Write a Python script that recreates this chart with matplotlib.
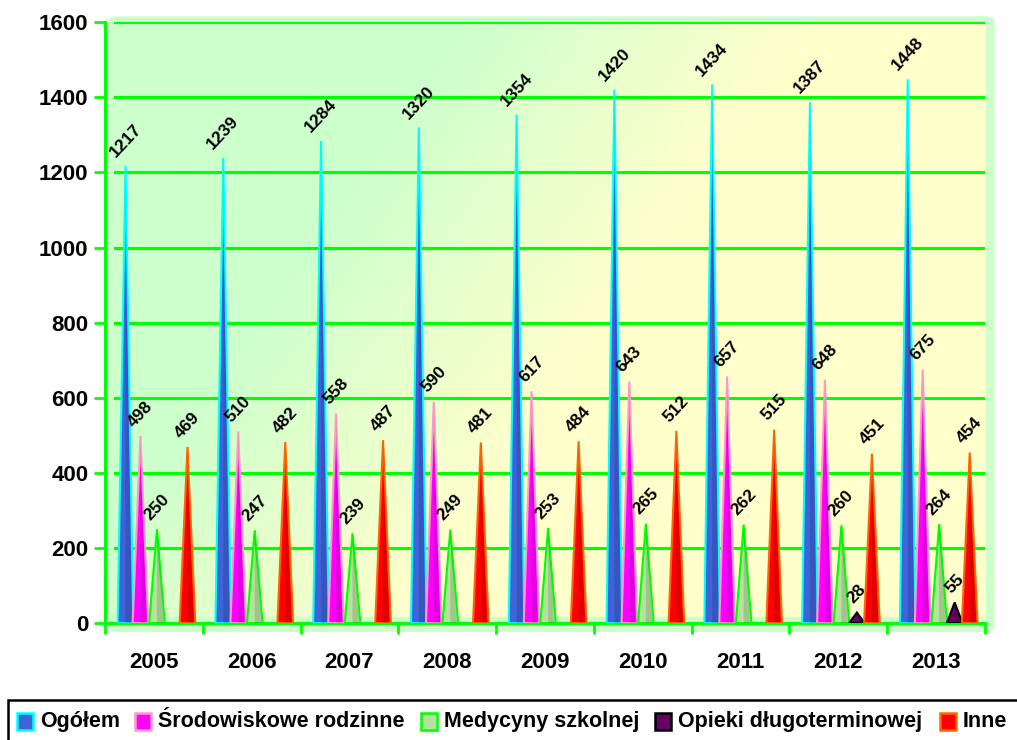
import numpy as np
import matplotlib.pyplot as plt
from matplotlib.patches import Rectangle, FancyBboxPatch

plt.rcParams['font.family'] = ['Liberation Sans', 'DejaVu Sans']
plt.rcParams['font.weight'] = 'bold'

# dane
lata = ['2005', '2006', '2007', '2008', '2009', '2010', '2011', '2012', '2013']
ogolem = [1217, 1239, 1284, 1320, 1354, 1420, 1434, 1387, 1448]
srodowiskowe = [498, 510, 558, 590, 617, 643, 657, 648, 675]
medycyny = [250, 247, 239, 249, 253, 265, 262, 260, 264]
opieki = [None, None, None, None, None, None, None, 28, 55]
inne = [469, 482, 487, 481, 484, 512, 515, 451, 454]

serie = [
    ('Ogółem', ogolem, '#3f63d8', '#00ffff'),
    ('Środowiskowe rodzinne', srodowiskowe, '#ff00ff', '#ff99cc'),
    ('Medycyny szkolnej', medycyny, '#b8e0a0', '#00ff00'),
    ('Opieki długoterminowej', opieki, '#660066', '#000000'),
    ('Inne', inne, '#ff0000', '#ff6600'),
]
offsets = [-0.29, -0.137, 0.032, 0.19, 0.344]
hw = 0.08

fig = plt.figure(figsize=(10.17, 7.4), dpi=100)
ax = fig.add_axes([0.1032, 0.158, 0.8653, 0.812])
px = 1600 / (0.812 * 740)  # jednostki danych na piksel

# tlo - zaokraglona ramka + gradient
bg = FancyBboxPatch((0.106, 0.146), 0.872, 0.832, boxstyle='round,pad=0,rounding_size=0.008',
                    transform=fig.transFigure, facecolor='#ccffcc', edgecolor='none', zorder=-2)
fig.patches.append(bg)
u = np.linspace(0, 1, 300)[None, :]
d = np.linspace(0, 1, 300)[:, None]
t = np.clip((u + 0.47 * d - 0.6) / 0.4 + 0.5, 0, 1)
zielony = np.array([0.80, 1.0, 0.80])
zolty = np.array([1.0, 1.0, 0.80])
img = zielony * (1 - t[..., None]) + zolty * t[..., None]
ax.imshow(img, extent=(-0.5, 8.5, 0, 1600), aspect='auto', zorder=0, origin='upper')
ax.axhspan(0, 16, color='#ccffcc', zorder=0.5)

for val in range(200, 1601, 200):
    ax.plot([-0.4, 8.5], [val, val], color='#00ff00', lw=2.2, zorder=1)

for (name, vals, fc, ec), off in zip(serie, offsets):
    for i, val in enumerate(vals):
        if val is None:
            continue
        x = i + off
        ax.fill([x - hw, x, x + hw], [0, val, 0], facecolor=fc, edgecolor=ec, lw=1.5, zorder=3)
        ax.fill([x, x, x + hw * 0.8], [0, val, 0], facecolor='black', alpha=0.12, lw=0, zorder=3.1)
        lab = str(val)
        ax.text(x, val + (13 + 3 * len(lab)) * px, lab, rotation=47, rotation_mode='anchor',
                ha='center', va='center', fontsize=12.5, fontweight='bold', zorder=5)

ax.set_xlim(-0.5, 8.5)
ax.set_ylim(0, 1600)
ax.set_yticks(range(0, 1601, 200))
ax.set_xticks(range(9))
ax.set_xticklabels(lata)
ax.set_xticks(np.arange(-0.5, 8.6, 1), minor=True)
ax.tick_params(axis='x', which='major', length=0, pad=21, labelsize=16)
ax.tick_params(axis='x', which='minor', length=8, width=2, color='#00ff00', direction='out')
ax.tick_params(axis='y', length=8, width=2, color='#00ff00', labelsize=16, pad=4)
for lab in ax.get_xticklabels() + ax.get_yticklabels():
    lab.set_fontweight('bold')
for s in ['top', 'right']:
    ax.spines[s].set_visible(False)
for s in ['left', 'bottom']:
    ax.spines[s].set_color('#00ff00')
    ax.spines[s].set_linewidth(2.2)
ax.patch.set_alpha(0)

# legenda
fig.patches.append(Rectangle((8 / 1017, -0.02), 1.0, 0.02 + 40 / 740, transform=fig.transFigure,
                             facecolor='white', edgecolor='black', lw=1.8, zorder=1))
leg_x = [17, 135, 421, 655, 940]
for (name, _, fc, ec), lx in zip(serie, leg_x):
    fig.patches.append(Rectangle((lx / 1017, 10 / 740), 16 / 1017, 17 / 740, transform=fig.transFigure,
                                 facecolor=fc, edgecolor=ec, lw=1.8, zorder=2))
    fig.text((lx + 23) / 1017, 18.5 / 740, name, ha='left', va='center', fontsize=15.5,
             fontweight='bold', zorder=3)

fig.savefig('out.png', dpi=100)
